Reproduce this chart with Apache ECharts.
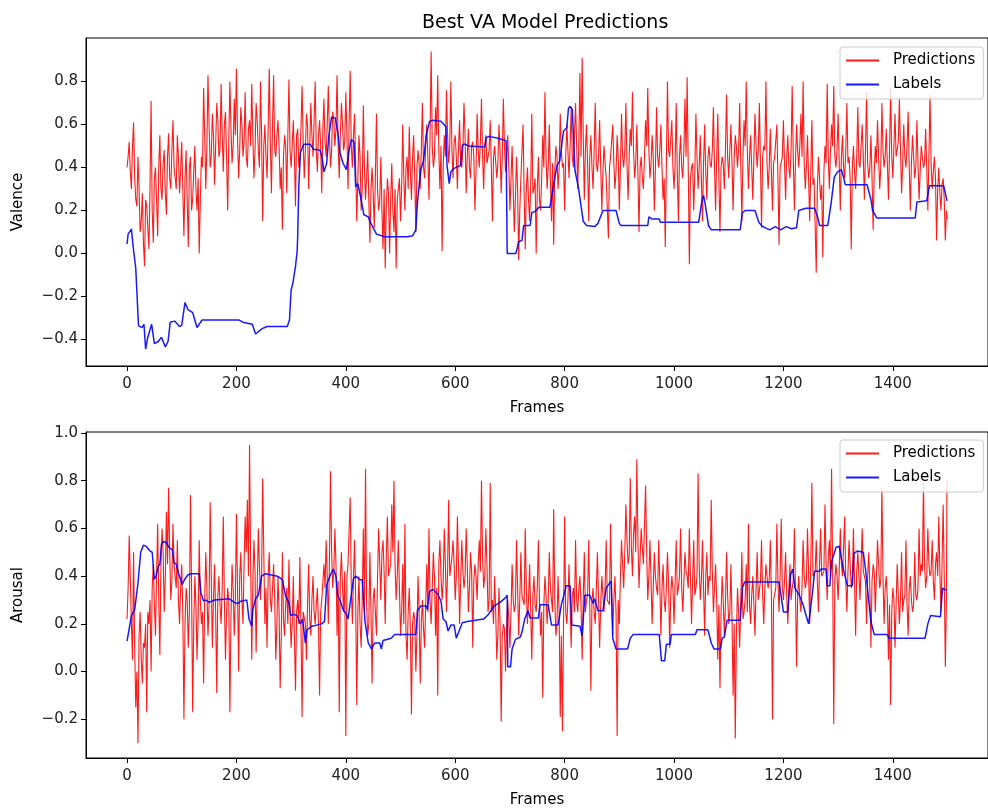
<!DOCTYPE html>
<html>
<head>
<meta charset="utf-8">
<script src="https://cdn.jsdelivr.net/npm/echarts@6/dist/echarts.min.js"></script>
<style>
html,body{margin:0;padding:0;background:#fff;}
#chart{width:988px;height:809px;}
</style>
</head>
<body>
<div id="chart"></div>
<script>
// ---------- DATA ----------
const TITLE = 'Best VA Model Predictions';
const X_TICKS = [0, 200, 400, 600, 800, 1000, 1200, 1400];
const VAL_TICKS = [-0.4, -0.2, 0.0, 0.2, 0.4, 0.6, 0.8];
const ARO_TICKS = [-0.2, 0.0, 0.2, 0.4, 0.6, 0.8, 1.0];
const PRED_STEP = 4;   // main readings every 4 frames (0,4,8,...), extra readings in between (2,6,10,...)
const LAST_FRAME = 1499;

// Valence predictions read at frames 0,4,8,...,1496 and last frame 1499
const valPred = [
0.40,0.52,0.30,0.61,0.25,0.45,0.10,0.28,-0.06,0.22,0.02,0.71,0.05,0.40,0.08,0.55,0.25,0.48,0.18,0.56,0.30,0.62,0.35,0.55,0.28,
0.52,0.08,0.48,0.03,0.45,0.25,0.50,0.20,0.00,0.45,0.77,0.30,0.83,0.40,0.65,0.32,0.70,0.45,0.79,0.38,0.66,0.20,0.80,0.42,0.72,
0.86,0.35,0.68,0.45,0.75,0.40,0.62,0.79,0.35,0.70,0.48,0.80,0.15,0.60,0.35,0.86,0.28,0.83,0.45,0.62,0.30,0.11,0.55,0.28,0.81,
0.40,0.62,0.22,0.58,0.45,0.78,0.35,0.65,0.30,0.70,0.45,0.80,0.38,0.62,0.28,0.72,0.45,0.78,0.40,0.66,0.50,0.83,0.35,0.70,0.48,
0.75,0.30,0.85,0.40,0.65,0.15,0.55,0.20,0.69,0.25,0.48,0.05,0.40,0.12,0.65,0.20,0.45,0.02,-0.07,0.35,0.00,0.42,0.10,-0.07,0.30,
0.15,0.60,0.20,0.45,0.59,0.25,0.55,0.10,0.48,0.30,0.70,0.35,0.60,0.25,0.94,0.40,0.68,0.83,0.30,0.01,0.55,0.76,0.42,0.80,0.35,
0.55,0.30,0.62,0.40,0.70,0.28,0.58,0.35,0.52,0.20,0.65,0.40,0.72,0.30,0.55,0.45,0.62,0.15,0.50,0.35,0.60,0.28,0.72,0.38,0.55,
0.20,0.50,0.10,0.45,-0.03,0.35,0.60,0.02,0.40,0.15,0.65,0.30,0.00,0.45,0.20,0.55,0.75,0.30,0.60,0.15,0.04,0.50,0.30,0.65,0.40,
0.20,0.60,0.35,0.68,0.40,0.70,0.30,0.84,0.91,0.25,0.60,0.15,0.55,0.30,0.70,0.38,0.62,0.20,0.50,0.35,0.07,0.45,0.60,0.30,0.55,
0.20,0.65,0.40,0.70,0.25,0.58,0.75,0.35,0.60,0.10,0.45,0.30,0.62,0.77,0.35,0.55,0.20,0.68,0.40,0.60,0.25,0.03,0.80,0.45,0.62,
0.30,0.70,0.15,0.55,0.35,0.72,0.82,-0.05,0.40,0.20,0.65,0.30,0.55,0.15,0.60,0.25,0.50,0.40,0.68,0.20,0.65,0.10,0.45,0.30,0.74,
0.35,0.60,0.20,0.55,0.40,0.70,0.15,0.62,0.80,0.30,0.55,0.25,0.65,0.40,0.70,0.12,0.50,0.80,0.30,0.58,0.20,0.45,0.60,0.04,0.40,
0.62,0.25,0.55,0.35,0.78,0.20,0.60,0.40,0.65,0.80,0.30,0.55,0.15,0.62,0.35,-0.09,0.45,0.25,-0.02,0.50,0.79,0.30,0.60,0.78,0.40,
0.65,0.20,0.55,0.35,0.70,0.45,0.02,0.50,0.30,0.68,0.40,0.60,0.25,0.75,0.35,0.55,0.11,0.50,0.62,0.30,0.70,0.40,0.58,0.25,0.77,
0.35,0.65,0.45,0.72,0.28,0.60,0.40,0.66,0.20,0.55,0.35,0.62,0.25,0.50,0.40,0.58,0.20,0.74,0.30,0.45,0.06,0.40,0.20,0.35,0.06,
0.16
];
// Valence predictions read at frames 2,6,10,...,1498
const valPredMid = [
0.45,0.38,0.50,0.35,0.22,0.30,0.15,0.05,0.25,0.12,0.30,0.20,0.35,0.25,0.40,0.30,0.42,0.28,0.45,0.35,0.48,0.40,0.30,0.45,0.38,
0.30,0.35,0.25,0.40,0.20,0.38,0.30,0.35,0.25,0.40,0.55,0.50,0.60,0.45,0.55,0.50,0.62,0.48,0.55,0.60,0.45,0.52,0.58,0.50,0.55,
0.55,0.48,0.60,0.52,0.45,0.58,0.50,0.55,0.48,0.62,0.40,0.55,0.50,0.45,0.58,0.52,0.60,0.48,0.55,0.50,0.40,0.45,0.50,0.55,0.48,
0.50,0.45,0.55,0.40,0.58,0.52,0.48,0.60,0.50,0.55,0.62,0.48,0.55,0.50,0.58,0.52,0.60,0.55,0.48,0.62,0.58,0.50,0.55,0.60,0.52,
0.55,0.60,0.50,0.55,0.40,0.35,0.45,0.30,0.40,0.35,0.25,0.30,0.28,0.35,0.30,0.25,0.20,0.30,0.22,0.28,0.25,0.20,0.30,0.25,0.35,
0.30,0.35,0.40,0.30,0.38,0.45,0.35,0.40,0.42,0.48,0.40,0.50,0.45,0.55,0.50,0.45,0.55,0.48,0.50,0.40,0.45,0.55,0.50,0.48,0.52,
0.45,0.50,0.42,0.48,0.55,0.45,0.40,0.50,0.45,0.38,0.48,0.52,0.45,0.50,0.42,0.48,0.40,0.45,0.50,0.42,0.48,0.45,0.50,0.42,0.40,
0.35,0.30,0.25,0.30,0.20,0.35,0.28,0.30,0.25,0.32,0.28,0.35,0.30,0.25,0.35,0.40,0.45,0.40,0.35,0.42,0.38,0.45,0.40,0.48,0.42,
0.45,0.48,0.50,0.45,0.55,0.50,0.52,0.45,0.55,0.48,0.42,0.45,0.40,0.48,0.42,0.45,0.40,0.38,0.42,0.35,0.40,0.45,0.42,0.38,0.45,
0.40,0.45,0.48,0.42,0.45,0.50,0.48,0.42,0.38,0.40,0.35,0.45,0.50,0.48,0.42,0.45,0.40,0.45,0.48,0.40,0.35,0.42,0.48,0.45,0.40,
0.42,0.38,0.45,0.40,0.48,0.45,0.40,0.35,0.42,0.38,0.45,0.40,0.35,0.42,0.38,0.45,0.42,0.48,0.40,0.45,0.35,0.40,0.42,0.48,0.45,
0.48,0.42,0.45,0.50,0.48,0.42,0.45,0.50,0.48,0.45,0.40,0.45,0.50,0.48,0.42,0.45,0.48,0.42,0.40,0.38,0.42,0.45,0.35,0.40,0.45,
0.42,0.45,0.40,0.48,0.45,0.42,0.48,0.50,0.45,0.42,0.40,0.35,0.38,0.32,0.35,0.30,0.35,0.32,0.38,0.42,0.45,0.48,0.50,0.45,0.48,
0.42,0.45,0.40,0.48,0.42,0.35,0.40,0.38,0.45,0.42,0.40,0.45,0.48,0.42,0.40,0.35,0.38,0.42,0.45,0.40,0.48,0.45,0.42,0.48,0.45,
0.50,0.45,0.52,0.48,0.42,0.45,0.50,0.40,0.42,0.45,0.40,0.42,0.38,0.45,0.42,0.40,0.45,0.42,0.38,0.35,0.30,0.28,0.32,0.25,0.20
];

// Arousal predictions read at frames 0,4,8,...,1496 and last frame 1499
const aroPred = [
0.22,0.57,0.20,0.50,-0.15,-0.30,0.25,-0.05,0.10,-0.17,0.20,0.00,0.45,0.15,0.62,0.07,0.60,0.25,0.67,0.77,0.30,0.62,0.40,0.55,0.20,
0.45,-0.20,0.35,0.10,0.74,-0.17,0.40,0.05,0.55,0.20,-0.05,0.50,0.15,0.71,0.10,0.45,-0.09,0.40,0.20,0.65,0.05,0.35,-0.17,0.45,0.15,
0.66,0.00,0.50,0.20,0.65,0.72,0.95,0.05,0.55,0.08,0.60,0.30,0.81,0.20,0.10,0.50,0.25,0.45,0.05,0.40,-0.07,0.50,0.15,0.35,0.47,
0.10,0.40,-0.08,0.30,0.48,-0.19,0.25,0.05,0.45,0.15,0.40,0.20,0.35,-0.10,0.30,0.45,0.55,0.20,0.84,0.35,0.60,0.15,-0.17,0.50,0.25,
-0.27,0.45,0.73,0.20,0.55,-0.14,0.40,0.10,0.60,0.85,0.15,0.50,-0.05,0.35,0.15,0.60,0.30,0.55,0.20,0.65,0.40,0.70,0.80,0.30,0.55,
0.15,0.45,0.62,0.05,0.35,-0.18,0.25,0.00,0.40,-0.05,0.30,0.10,0.45,0.60,0.20,0.50,0.15,-0.10,0.55,0.30,0.60,0.25,0.72,0.40,0.55,
0.30,0.65,0.20,0.55,0.35,0.60,0.25,0.50,0.10,0.45,0.30,0.55,0.80,0.35,0.60,0.25,0.79,0.30,0.40,0.05,0.35,-0.21,0.20,0.00,0.30,
0.10,0.45,0.25,0.55,0.15,0.50,0.30,0.60,0.20,0.45,0.05,0.40,0.25,0.55,0.15,-0.11,0.40,0.20,0.50,0.30,0.68,0.15,0.40,-0.19,-0.25,
0.65,0.20,0.45,0.10,0.35,0.55,0.25,0.40,0.05,0.50,0.30,0.55,-0.08,0.35,0.20,0.50,0.10,0.40,0.25,0.55,0.30,0.62,0.15,0.40,-0.27,
0.20,0.55,0.35,0.70,0.45,0.81,0.40,0.65,0.89,0.35,0.60,0.45,0.78,0.30,0.55,0.20,0.50,0.35,0.55,0.15,0.45,0.25,0.50,0.10,0.40,
0.20,0.55,0.35,0.60,0.25,0.50,0.40,0.60,0.20,0.55,0.35,0.83,0.30,0.55,0.15,0.50,0.40,0.72,0.25,0.45,0.05,-0.07,0.40,0.15,0.50,
0.20,0.45,-0.10,-0.28,0.35,0.10,0.50,0.25,0.45,0.62,0.20,0.40,0.15,0.50,0.30,0.55,0.20,0.45,0.35,0.55,-0.20,0.30,0.62,0.25,0.64,
0.30,0.50,0.20,0.45,0.35,0.60,0.02,0.40,0.25,0.55,0.35,0.60,0.20,0.79,0.40,0.55,0.25,0.60,0.40,0.70,0.30,0.55,0.85,-0.22,0.45,
0.30,0.60,0.40,0.65,0.25,0.55,0.35,0.60,0.15,0.50,0.30,0.60,0.40,0.20,0.50,0.10,0.45,0.25,0.55,0.35,0.77,0.20,0.40,0.05,-0.14,
0.35,0.10,0.45,0.20,0.50,0.30,0.55,0.15,0.40,0.25,0.50,0.30,0.60,0.45,0.79,0.35,0.60,0.40,0.55,0.30,0.50,0.65,0.25,0.70,0.02,
0.80
];
// Arousal predictions read at frames 2,6,10,...,1498
const aroPredMid = [
0.35,0.40,0.05,0.10,0.00,0.15,0.05,0.12,0.20,0.25,0.30,0.35,0.28,0.40,0.30,0.45,0.50,0.40,0.45,0.50,0.38,0.45,0.35,0.30,0.35,
0.25,0.20,0.30,0.25,0.35,0.20,0.28,0.22,0.30,0.25,0.30,0.35,0.28,0.40,0.30,0.25,0.32,0.28,0.35,0.30,0.25,0.30,0.22,0.35,0.30,
0.35,0.40,0.30,0.45,0.50,0.40,0.45,0.38,0.42,0.35,0.45,0.40,0.50,0.35,0.40,0.30,0.25,0.30,0.20,0.25,0.15,0.22,0.28,0.20,0.25,
0.20,0.15,0.25,0.20,0.18,0.25,0.20,0.28,0.22,0.30,0.25,0.28,0.20,0.25,0.30,0.35,0.40,0.45,0.50,0.42,0.45,0.38,0.40,0.35,0.42,
0.40,0.45,0.35,0.40,0.30,0.25,0.20,0.30,0.25,0.28,0.20,0.25,0.30,0.35,0.40,0.45,0.50,0.42,0.48,0.40,0.45,0.50,0.45,0.40,0.35,
0.25,0.20,0.15,0.25,0.18,0.20,0.22,0.15,0.25,0.20,0.18,0.28,0.25,0.30,0.35,0.40,0.35,0.45,0.40,0.38,0.45,0.42,0.40,0.48,0.45,
0.40,0.45,0.38,0.42,0.40,0.45,0.35,0.42,0.38,0.40,0.45,0.42,0.48,0.40,0.45,0.30,0.25,0.20,0.25,0.15,0.20,0.15,0.18,0.20,0.22,
0.25,0.30,0.28,0.35,0.30,0.32,0.28,0.35,0.30,0.25,0.32,0.28,0.35,0.30,0.25,0.28,0.32,0.30,0.35,0.25,0.30,0.20,0.25,0.15,0.20,
0.25,0.30,0.28,0.32,0.25,0.30,0.35,0.28,0.30,0.25,0.32,0.28,0.30,0.25,0.35,0.30,0.28,0.32,0.35,0.30,0.28,0.35,0.30,0.25,0.30,
0.40,0.45,0.50,0.55,0.48,0.52,0.58,0.50,0.55,0.48,0.52,0.45,0.50,0.40,0.38,0.35,0.40,0.32,0.38,0.35,0.30,0.35,0.38,0.32,0.35,
0.38,0.32,0.40,0.35,0.38,0.42,0.35,0.40,0.38,0.32,0.40,0.45,0.38,0.35,0.40,0.32,0.38,0.42,0.35,0.30,0.28,0.25,0.30,0.28,0.32,
0.25,0.22,0.20,0.15,0.25,0.28,0.22,0.30,0.25,0.28,0.32,0.28,0.35,0.30,0.38,0.32,0.35,0.40,0.38,0.32,0.30,0.35,0.38,0.40,0.35,
0.38,0.32,0.35,0.30,0.38,0.35,0.32,0.30,0.35,0.40,0.38,0.42,0.45,0.40,0.42,0.38,0.45,0.40,0.42,0.45,0.48,0.40,0.42,0.38,0.40,
0.42,0.45,0.40,0.38,0.42,0.45,0.40,0.38,0.42,0.40,0.45,0.42,0.38,0.40,0.35,0.38,0.42,0.40,0.45,0.38,0.40,0.35,0.30,0.28,0.25,
0.30,0.28,0.32,0.30,0.25,0.32,0.28,0.35,0.30,0.28,0.32,0.35,0.40,0.42,0.45,0.40,0.45,0.42,0.38,0.45,0.40,0.42,0.45,0.40,0.30
];

const valLabelFrames = [0,2,8,11,16,19,21,27,31,34,38,45,50,57,63,70,75,79,87,96,100,106,111,120,128,137,205,212,229,235,247,256,293,297,300,303,308,311,312,314,317,323,335,341,353,357,360,365,369,374,381,386,389,395,401,406,410,415,418,422,428,433,441,446,456,465,471,513,522,528,531,537,542,547,553,559,574,583,585,589,592,597,610,613,616,625,654,657,662,680,693,695,711,716,722,725,737,740,746,753,773,782,786,791,798,804,807,810,814,819,825,834,840,855,861,864,870,894,900,903,952,954,960,973,975,1045,1051,1054,1057,1063,1068,1121,1125,1130,1148,1155,1160,1166,1175,1185,1195,1205,1215,1224,1228,1241,1257,1263,1266,1281,1287,1293,1299,1306,1310,1313,1353,1360,1363,1371,1441,1444,1447,1462,1467,1493,1499];
const valLabelValues = [0.044,0.09,0.113,0.036,-0.07,-0.23,-0.336,-0.345,-0.33,-0.445,-0.39,-0.33,-0.42,-0.41,-0.39,-0.435,-0.41,-0.32,-0.315,-0.34,-0.335,-0.228,-0.26,-0.275,-0.345,-0.31,-0.31,-0.32,-0.33,-0.375,-0.35,-0.34,-0.34,-0.31,-0.17,-0.14,-0.06,0.01,0.08,0.31,0.47,0.508,0.508,0.485,0.48,0.44,0.38,0.42,0.55,0.635,0.63,0.55,0.47,0.42,0.39,0.48,0.53,0.52,0.31,0.325,0.25,0.18,0.17,0.14,0.09,0.082,0.078,0.078,0.082,0.11,0.24,0.39,0.43,0.55,0.615,0.62,0.615,0.59,0.41,0.325,0.38,0.395,0.41,0.5,0.51,0.5,0.495,0.54,0.545,0.535,0.525,0.0,0.0,0.055,0.06,0.13,0.13,0.19,0.195,0.215,0.215,0.35,0.41,0.43,0.57,0.585,0.675,0.685,0.67,0.385,0.31,0.15,0.13,0.125,0.14,0.16,0.2,0.2,0.14,0.13,0.13,0.17,0.16,0.16,0.145,0.145,0.245,0.27,0.23,0.13,0.11,0.11,0.19,0.2,0.2,0.145,0.13,0.12,0.11,0.125,0.11,0.125,0.115,0.12,0.2,0.21,0.21,0.165,0.13,0.13,0.23,0.355,0.38,0.39,0.355,0.32,0.32,0.25,0.2,0.165,0.165,0.24,0.245,0.245,0.315,0.315,0.245];

const aroLabelFrames = [0,3,8,14,16,20,25,30,35,42,46,50,53,57,60,63,67,72,77,83,86,90,95,101,105,111,117,132,135,140,144,150,160,187,196,202,208,219,223,228,230,235,240,246,253,275,284,290,296,299,303,311,317,321,326,329,338,356,361,365,371,377,382,385,390,395,401,404,409,414,418,426,430,435,441,447,453,462,465,468,483,489,528,531,537,547,549,553,559,568,574,578,583,587,592,598,602,607,613,622,652,661,671,682,692,695,696,701,704,710,719,722,727,733,737,752,755,770,776,788,794,803,810,813,828,832,837,846,852,855,861,870,876,885,888,894,915,920,925,973,977,983,986,993,995,1039,1042,1062,1068,1073,1085,1088,1092,1097,1121,1125,1129,1192,1200,1208,1213,1217,1221,1225,1229,1232,1236,1242,1246,1249,1254,1257,1266,1269,1278,1280,1285,1288,1296,1302,1305,1311,1317,1326,1329,1335,1346,1350,1355,1360,1366,1390,1393,1459,1464,1469,1472,1487,1491,1499];
const aroLabelValues = [0.128,0.12,0.233,0.26,0.255,0.37,0.5,0.53,0.525,0.505,0.5,0.386,0.4,0.44,0.45,0.535,0.545,0.54,0.52,0.51,0.455,0.45,0.405,0.365,0.385,0.405,0.41,0.41,0.33,0.295,0.3,0.29,0.3,0.305,0.29,0.285,0.295,0.3,0.22,0.19,0.26,0.305,0.32,0.4,0.41,0.4,0.385,0.315,0.29,0.235,0.24,0.235,0.2,0.22,0.12,0.175,0.19,0.2,0.21,0.365,0.4,0.43,0.4,0.32,0.295,0.26,0.24,0.22,0.305,0.39,0.4,0.385,0.385,0.21,0.12,0.095,0.12,0.12,0.095,0.13,0.14,0.155,0.155,0.255,0.275,0.275,0.26,0.335,0.345,0.325,0.295,0.22,0.21,0.17,0.195,0.195,0.14,0.17,0.205,0.21,0.22,0.24,0.275,0.29,0.31,0.32,0.02,0.02,0.095,0.135,0.145,0.165,0.22,0.255,0.225,0.225,0.28,0.28,0.195,0.195,0.28,0.36,0.36,0.195,0.19,0.15,0.32,0.32,0.285,0.305,0.255,0.255,0.35,0.38,0.14,0.095,0.095,0.14,0.155,0.155,0.045,0.045,0.115,0.115,0.155,0.155,0.175,0.175,0.12,0.095,0.095,0.14,0.145,0.215,0.215,0.35,0.375,0.375,0.25,0.25,0.405,0.43,0.35,0.335,0.32,0.32,0.28,0.23,0.2,0.25,0.35,0.42,0.42,0.43,0.43,0.36,0.36,0.46,0.52,0.525,0.485,0.415,0.36,0.36,0.495,0.505,0.5,0.43,0.32,0.21,0.155,0.155,0.14,0.14,0.2,0.235,0.23,0.23,0.35,0.34];

// ---------- BUILD ----------
const FONT = 'DejaVu Sans';
const pairs = (xs, ys) => ys.map((y, i) => [xs[i], y]);
function mergePred(main, mid) {
  const out = [];
  for (let i = 0; i < main.length; i++) {
    out.push([Math.min(i * PRED_STEP, LAST_FRAME), main[i]]);
    if (i < mid.length) out.push([i * PRED_STEP + PRED_STEP / 2, mid[i]]);
  }
  return out;
}
const fmt = v => (v < 0 ? '\u2212' : '') + Math.abs(v).toFixed(1);

function xAxisFor(gridIndex) {
  return {
    type: 'value', gridIndex, min: -75, max: 1574,
    name: 'Frames', nameLocation: 'middle', nameGap: 35,
    nameTextStyle: { fontFamily: FONT, fontSize: 15, color: '#000' },
    axisLine: { show: true, onZero: false, lineStyle: { color: '#000', width: 1 } },
    axisTick: { show: true, length: 5, customValues: X_TICKS, lineStyle: { color: '#000' } },
    axisLabel: { customValues: X_TICKS, margin: 11, fontFamily: FONT, fontSize: 15, color: '#222',
                 formatter: v => String(v) },
    splitLine: { show: false }
  };
}
function yAxisFor(gridIndex, min, max, ticks, name) {
  return {
    type: 'value', gridIndex, min, max,
    name, nameLocation: 'middle', nameGap: 60, nameRotate: 90,
    nameTextStyle: { fontFamily: FONT, fontSize: 15, color: '#000' },
    axisLine: { show: true, onZero: false, lineStyle: { color: '#000', width: 1 } },
    axisTick: { show: true, length: 5, customValues: ticks, lineStyle: { color: '#000' } },
    axisLabel: { customValues: ticks, margin: 8, fontFamily: FONT, fontSize: 15, color: '#222',
                 formatter: v => fmt(v) },
    splitLine: { show: false }
  };
}
function legendFor(top) {
  return {
    orient: 'vertical', left: 840, top,
    data: ['Predictions', 'Labels'],
    itemWidth: 33, itemHeight: 14, itemGap: 9,
    itemStyle: { opacity: 0 },
    backgroundColor: 'rgba(255,255,255,0.8)', borderColor: '#cccccc', borderWidth: 1, borderRadius: 3,
    padding: [6, 8, 7, 5],
    textStyle: { fontFamily: FONT, fontSize: 15, color: '#000', padding: [0, 0, 0, 9] },
    selectedMode: false
  };
}
const redStyle = { color: 'rgba(255,0,0,0.9)', width: 1.1 };
const blueStyle = { color: 'rgba(0,0,255,0.9)', width: 1.5 };
function lineSeries(name, data, idx, style, z) {
  return {
    name, type: 'line', xAxisIndex: idx, yAxisIndex: idx, data,
    showSymbol: false, symbol: 'none', smooth: false, animation: false, z,
    lineStyle: style, itemStyle: { color: style.color }
  };
}

const chart = echarts.init(document.getElementById('chart'), null, { renderer: 'canvas' });
chart.setOption({
  backgroundColor: '#fff',
  animation: false,
  title: { text: TITLE, left: 417, top: 9,
           textStyle: { fontFamily: FONT, fontSize: 19, fontWeight: 'normal', color: '#000' } },
  grid: [
    { left: 86, top: 38, width: 909, height: 328, show: true, borderColor: '#000', borderWidth: 1, backgroundColor: 'transparent' },
    { left: 86, top: 432, width: 909, height: 328, show: true, borderColor: '#000', borderWidth: 1, backgroundColor: 'transparent' }
  ],
  xAxis: [xAxisFor(0), xAxisFor(1)],
  yAxis: [yAxisFor(0, -0.524, 1.003, VAL_TICKS, 'Valence'), yAxisFor(1, -0.362, 1.004, ARO_TICKS, 'Arousal')],
  legend: [legendFor(47), legendFor(440)],
  series: [
    lineSeries('Predictions', mergePred(valPred, valPredMid), 0, redStyle, 2),
    lineSeries('Labels', pairs(valLabelFrames, valLabelValues), 0, blueStyle, 3),
    lineSeries('Predictions', mergePred(aroPred, aroPredMid), 1, redStyle, 2),
    lineSeries('Labels', pairs(aroLabelFrames, aroLabelValues), 1, blueStyle, 3)
  ]
});
</script>
</body>
</html>
